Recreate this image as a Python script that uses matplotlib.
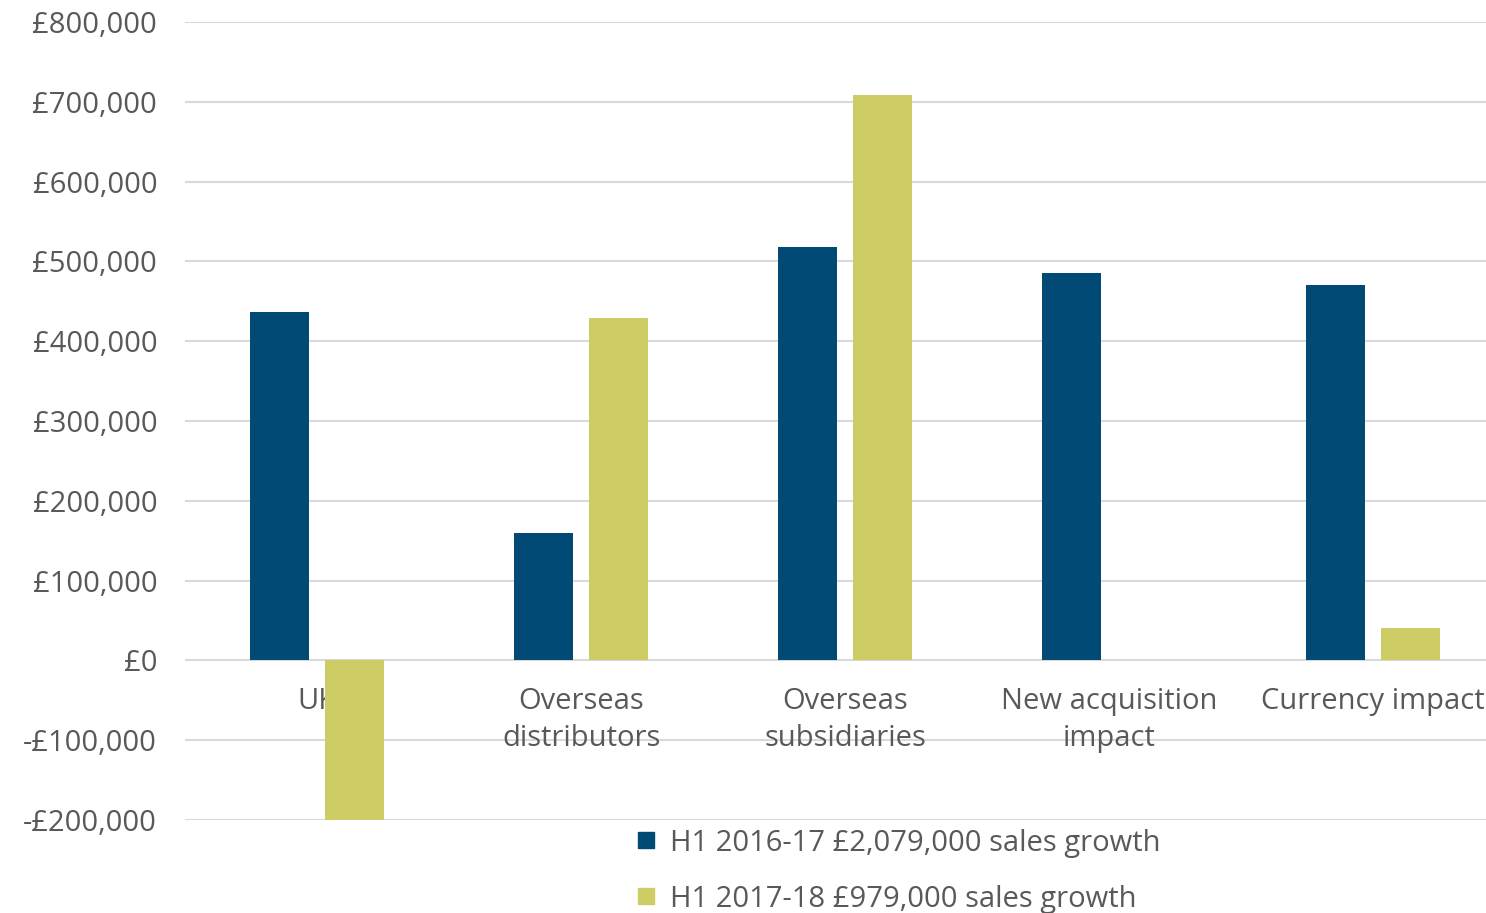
import matplotlib.pyplot as plt
from matplotlib.patches import Rectangle
from matplotlib.ticker import FuncFormatter
import numpy as np

categories = ["UK", "Overseas\ndistributors", "Overseas\nsubsidiaries",
              "New acquisition\nimpact", "Currency impact"]
growth_2016_17 = [437000, 160000, 518000, 486000, 471000]
growth_2017_18 = [-200000, 429000, 709000, 0, 40000]
series_labels = ["H1 2016-17 £2,079,000 sales growth",
                 "H1 2017-18 £979,000 sales growth"]

BLUE = "#004a75"
YELLOW = "#cecc64"
GREY = "#595959"

plt.rcParams["font.family"] = ["Open Sans", "DejaVu Sans"]
plt.rcParams["font.weight"] = "medium"
FS = 21

fig = plt.figure(figsize=(14.86, 9.13), dpi=100)
ax = fig.add_axes([185 / 1486, 1 - 820 / 913, 1320 / 1486, 798 / 913])

x = np.arange(len(categories))
w = 0.223
off = 0.142
ax.bar(x - off, growth_2016_17, width=w, color=BLUE, zorder=3)
ax.bar(x + off, growth_2017_18, width=w, color=YELLOW, zorder=3)

ax.set_xlim(-0.5, len(categories) - 0.5)
ax.set_ylim(-200000, 800000)
ax.set_yticks(np.arange(-200000, 800001, 100000))


def money(v, pos):
    if v < 0:
        return "-£{:,.0f}".format(-v)
    return "£{:,.0f}".format(v)


ax.yaxis.set_major_formatter(FuncFormatter(money))
ax.tick_params(axis="y", length=0, pad=20, labelsize=FS, labelcolor=GREY)
ax.set_xticks([])
ax.set_axisbelow(True)
ax.grid(axis="y", color="#d9d9d9", linewidth=1.5)
for s in ax.spines.values():
    s.set_visible(False)

# category labels sit above the grid but under the bars
for i, lab in enumerate(categories):
    ax.text(i, -33000, lab, ha="center", va="top", fontsize=FS,
            color=GREY, linespacing=1.36, zorder=2)

# legend, drawn by hand to match the placement in the reference
colors = [BLUE, YELLOW]
rows_y = [840, 896]
for c, lab, yy in zip(colors, series_labels, rows_y):
    fy = 1 - yy / 913
    fig.add_artist(Rectangle((638 / 1486, fy - 8 / 913), 16 / 1486, 16 / 913,
                             transform=fig.transFigure, color=c))
    fig.text(670 / 1486, fy, lab, ha="left", va="center_baseline",
             fontsize=FS, color=GREY)

fig.savefig("out.png", dpi=100)
